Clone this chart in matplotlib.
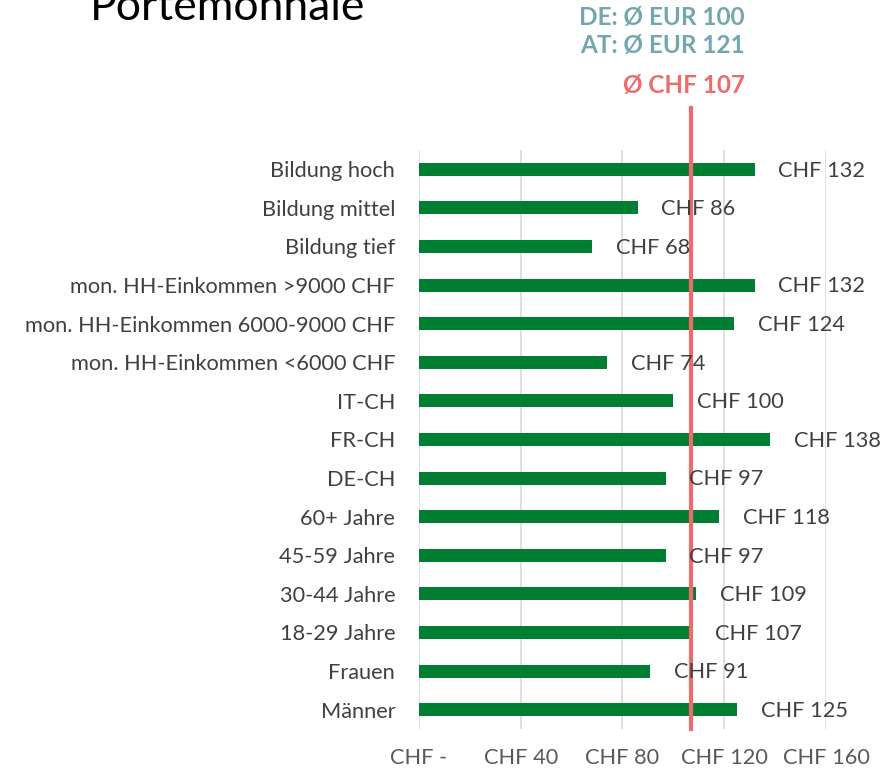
import matplotlib.pyplot as plt

plt.rcParams["font.family"] = ["Lato", "DejaVu Sans"]

# ── Data (top to bottom as shown) ─────────────────────────────────────────────
categories = [
    "Bildung hoch", "Bildung mittel", "Bildung tief",
    "mon. HH-Einkommen >9000 CHF", "mon. HH-Einkommen 6000-9000 CHF",
    "mon. HH-Einkommen <6000 CHF",
    "IT-CH", "FR-CH", "DE-CH",
    "60+ Jahre", "45-59 Jahre", "30-44 Jahre", "18-29 Jahre",
    "Frauen", "Männer",
]
values = [132, 86, 68, 132, 124, 74, 100, 138, 97, 118, 97, 109, 107, 91, 125]
mean_chf = 107
xticks = [0, 40, 80, 120, 160]
xtick_labels = ["CHF -", "CHF 40", "CHF 80", "CHF 120", "CHF 160"]

GREEN = "#007F33"
RED = "#EE6A6B"
TEAL = "#72A7B0"
FS = 15.7

# ── Plot ──────────────────────────────────────────────────────────────────────
fig = plt.figure(figsize=(8.95, 7.72), dpi=100)
ax = fig.add_axes([0.468, 0.0557, 0.455, 0.75])

ypos = list(range(len(categories)))
ax.barh(ypos, values, height=0.34, color=GREEN, zorder=2)
ax.set_ylim(len(categories) - 0.5, -0.5)
ax.set_xlim(0, 160)

for y, v in zip(ypos, values):
    ax.annotate(f"CHF {v}", (v, y), xytext=(17, -1), textcoords="offset points",
                ha="left", va="center", fontsize=FS, color="#404040",
                annotation_clip=False, zorder=4)

ax.axvline(mean_chf, ymin=0, ymax=1.0725, color=RED, linewidth=3, clip_on=False, zorder=3)

ax.set_yticks(ypos)
ax.set_yticklabels(categories, fontsize=FS, color="#404040")
ax.set_xticks(xticks)
ax.set_xticklabels(xtick_labels, fontsize=FS, color="#595959")
ax.tick_params(axis="y", length=0, pad=17)
ax.tick_params(axis="x", length=0, pad=14)
ax.grid(axis="x", color="#D9D9D9", linewidth=1.2, zorder=0)
for s in ax.spines.values():
    s.set_visible(False)

# ── Header texts ──────────────────────────────────────────────────────────────
fig.text(0.1, 1 - 8 / 772, "Portemonnaie", fontsize=32, color="black",
         ha="left", va="center")
fig.text(745 / 895, 1 - 17 / 772, "DE: Ø EUR 100", fontsize=17.5, fontweight="bold",
         color=TEAL, ha="right", va="center")
fig.text(745 / 895, 1 - 45 / 772, "AT: Ø EUR 121", fontsize=17.5, fontweight="bold",
         color=TEAL, ha="right", va="center")
fig.text(745 / 895, 1 - 85 / 772, "Ø CHF 107", fontsize=17.5, fontweight="bold",
         color=RED, ha="right", va="center")

plt.savefig("out.png", dpi=100)
